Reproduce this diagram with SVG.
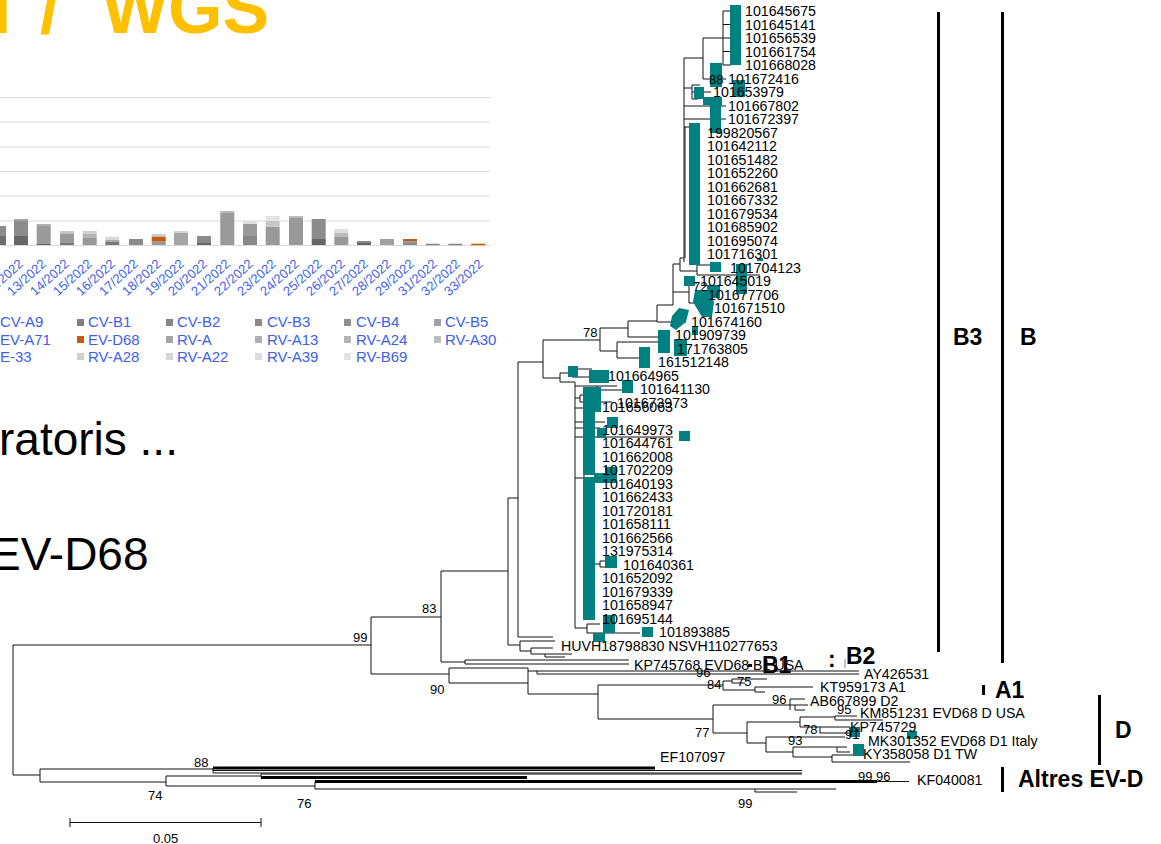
<svg xmlns="http://www.w3.org/2000/svg" width="1161" height="844" viewBox="0 0 1161 844">
<style>
text{font-family:"Liberation Sans",Arial,sans-serif}
.t{font-size:14.2px;fill:#000}
.bs{font-size:13px;fill:#000}
.cl{font-size:23px;font-weight:bold;fill:#000}
.lg{font-size:15px;fill:#4060e8}
.xl{font-size:13px;fill:#4060e8}
.br{stroke:#111;stroke-width:1;fill:none}
.tk{stroke:#000;stroke-width:3;fill:none}
.tl{fill:#008080}
.gl{stroke:#d9d9d9;stroke-width:1.2}
</style>
<rect width="1161" height="844" fill="#fff"/>
<g id="title"><text font-size="70" font-weight="bold" fill="#FFC000"><tspan x="-8" y="33">l </tspan><tspan x="40" y="33">/ </tspan><tspan x="102" y="33">WGS</tspan></text></g>
<g id="chart">
<g class="gl"><line x1="0" y1="97.5" x2="490" y2="97.5"/><line x1="0" y1="122" x2="490" y2="122"/><line x1="0" y1="147" x2="490" y2="147"/><line x1="0" y1="171.5" x2="490" y2="171.5"/><line x1="0" y1="196" x2="490" y2="196"/><line x1="0" y1="221" x2="490" y2="221"/><line x1="0" y1="245.5" x2="490" y2="245.5"/></g>
<g id="bars">
<rect x="0" y="226" width="6" height="10" fill="#8c8c8c"/><rect x="0" y="236" width="6" height="9" fill="#6e6e6e"/>
<rect x="14" y="219" width="14" height="2" fill="#a5a5a5"/><rect x="14" y="221" width="14" height="15" fill="#8c8c8c"/><rect x="14" y="236" width="14" height="9" fill="#666"/>
<rect x="36.7" y="224" width="14" height="2" fill="#b0b0b0"/><rect x="36.7" y="226" width="14" height="18" fill="#9a9a9a"/><rect x="36.7" y="244" width="14" height="1" fill="#666"/>
<rect x="60" y="231" width="14" height="2.5" fill="#c8c8c8"/><rect x="60" y="233.5" width="14" height="9.5" fill="#9a9a9a"/><rect x="60" y="243" width="14" height="2" fill="#777"/>
<rect x="82.7" y="231" width="14" height="3" fill="#d0d0d0"/><rect x="82.7" y="234" width="14" height="4" fill="#b5b5b5"/><rect x="82.7" y="238" width="14" height="7" fill="#999"/>
<rect x="105.3" y="236.7" width="14" height="3.3" fill="#dadada"/><rect x="105.3" y="240" width="14" height="2" fill="#aaa"/><rect x="105.3" y="242" width="14" height="3" fill="#777"/>
<rect x="129" y="239" width="14" height="6" fill="#8a8a8a"/>
<rect x="151.7" y="234" width="14" height="2.7" fill="#ccc"/><rect x="151.7" y="236.7" width="14" height="5" fill="#c55a11"/><rect x="151.7" y="241.7" width="14" height="3.3" fill="#999"/>
<rect x="174" y="231" width="14" height="2" fill="#d5d5d5"/><rect x="174" y="233" width="14" height="12" fill="#a5a5a5"/>
<rect x="197" y="236" width="14" height="7" fill="#8a8a8a"/><rect x="197" y="243" width="14" height="2" fill="#666"/>
<rect x="220.3" y="211" width="14" height="2" fill="#bbb"/><rect x="220.3" y="213" width="14" height="32" fill="#9a9a9a"/>
<rect x="243" y="221" width="14" height="3" fill="#e0e0e0"/><rect x="243" y="224" width="14" height="12" fill="#9a9a9a"/><rect x="243" y="236" width="14" height="9" fill="#888"/>
<rect x="265.7" y="216" width="14" height="5" fill="#e3e3e3"/><rect x="265.7" y="221" width="14" height="6" fill="#c8c8c8"/><rect x="265.7" y="227" width="14" height="18" fill="#999"/>
<rect x="289" y="216" width="14" height="2" fill="#bbb"/><rect x="289" y="218" width="14" height="27" fill="#999"/>
<rect x="311.7" y="219" width="14" height="20" fill="#8c8c8c"/><rect x="311.7" y="239" width="14" height="6" fill="#666"/>
<rect x="334.3" y="229" width="14" height="4" fill="#dedede"/><rect x="334.3" y="233" width="14" height="4" fill="#bbb"/><rect x="334.3" y="237" width="14" height="8" fill="#999"/>
<rect x="357" y="241" width="14" height="2" fill="#888"/><rect x="357" y="243" width="14" height="2" fill="#666"/>
<rect x="380" y="239" width="14" height="6" fill="#a0a0a0"/>
<rect x="403" y="239" width="14" height="2" fill="#c55a11"/><rect x="403" y="241" width="14" height="2" fill="#999"/><rect x="403" y="243" width="14" height="2" fill="#888"/>
<rect x="425.7" y="243.7" width="14" height="1.5" fill="#888"/>
<rect x="448.3" y="243.7" width="14" height="1.5" fill="#888"/>
<rect x="471.3" y="243.7" width="14" height="1.5" fill="#c55a11"/>
</g>
<g id="xlabels" class="xl" text-anchor="end">
<text transform="translate(24,265) rotate(-42)">12/2022</text>
<text transform="translate(47,265) rotate(-42)">13/2022</text>
<text transform="translate(70,265) rotate(-42)">14/2022</text>
<text transform="translate(93,265) rotate(-42)">15/2022</text>
<text transform="translate(116,265) rotate(-42)">16/2022</text>
<text transform="translate(139,265) rotate(-42)">17/2022</text>
<text transform="translate(162,265) rotate(-42)">18/2022</text>
<text transform="translate(185,265) rotate(-42)">19/2022</text>
<text transform="translate(208,265) rotate(-42)">20/2022</text>
<text transform="translate(231,265) rotate(-42)">21/2022</text>
<text transform="translate(254,265) rotate(-42)">22/2022</text>
<text transform="translate(277,265) rotate(-42)">23/2022</text>
<text transform="translate(300,265) rotate(-42)">24/2022</text>
<text transform="translate(323,265) rotate(-42)">25/2022</text>
<text transform="translate(346,265) rotate(-42)">26/2022</text>
<text transform="translate(369,265) rotate(-42)">27/2022</text>
<text transform="translate(392,265) rotate(-42)">28/2022</text>
<text transform="translate(415,265) rotate(-42)">29/2022</text>
<text transform="translate(438,265) rotate(-42)">31/2022</text>
<text transform="translate(461,265) rotate(-42)">32/2022</text>
<text transform="translate(484,265) rotate(-42)">33/2022</text>
</g>
<g id="legend">
<rect x="77" y="319" width="7" height="7" fill="#7f7f7f"/><rect x="166" y="319" width="7" height="7" fill="#858585"/><rect x="255" y="319" width="7" height="7" fill="#8a8a8a"/><rect x="344" y="319" width="7" height="7" fill="#8f8f8f"/><rect x="434" y="319" width="7" height="7" fill="#a0a0a0"/>
<rect x="77" y="336" width="7" height="7" fill="#c55a11"/><rect x="166" y="336" width="7" height="7" fill="#a6a6a6"/><rect x="255" y="336" width="7" height="7" fill="#afafaf"/><rect x="344" y="336" width="7" height="7" fill="#b5b5b5"/><rect x="434" y="336" width="7" height="7" fill="#bdbdbd"/>
<rect x="77" y="353" width="7" height="7" fill="#d0d0d0"/><rect x="166" y="353" width="7" height="7" fill="#d6d6d6"/><rect x="255" y="353" width="7" height="7" fill="#dcdcdc"/><rect x="344" y="353" width="7" height="7" fill="#e2e2e2"/>
<g class="lg">
<text x="0" y="327">CV-A9</text><text x="88" y="327">CV-B1</text><text x="177" y="327">CV-B2</text><text x="267" y="327">CV-B3</text><text x="356" y="327">CV-B4</text><text x="445" y="327">CV-B5</text>
<text x="0" y="345">EV-A71</text><text x="88" y="345">EV-D68</text><text x="177" y="345">RV-A</text><text x="267" y="345">RV-A13</text><text x="356" y="345">RV-A24</text><text x="445" y="345">RV-A30</text>
<text x="0" y="362">E-33</text><text x="88" y="362">RV-A28</text><text x="177" y="362">RV-A22</text><text x="267" y="362">RV-A39</text><text x="356" y="362">RV-B69</text>
</g>
</g>
</g>
<g id="bodytext"><text x="-1" y="455" font-size="46">ratoris ...</text><text x="-10" y="570" font-size="46">EV-D68</text></g>
<g id="connectors">
<path class="br" d="M723,11V65M723,11H731M723,24.5H731M723,38H731M723,51.5H731M723,65H731M703,38H723M703,38V79M703,79H726M684,58H703M684,58V262M684,88H692M692,85V99M692,85H700M692,92H711M692,99H698M684,106H726M684,119H726M684,127H700M680,258V271M680,258H684M680,271H697M697,265V275M697,265H712M697,275H760M673,264V305M673,264H680M673,292H689M689,283V303M689,283H697M689,303H700M700,297V310M700,297H708M700,310H712M657,305V322M657,305H673M657,322H686M628,321V337M628,321H657M628,337H668M600,328V351M600,328H628M600,351H617M617,342V358M617,342H662M617,358H645M543,340V378M543,340H600M543,378H560M518,362V637M518,362H543M518,637H553M508,498V645M508,498H518M441,571V662M441,571H508M560,373V382M560,373H572M572,369V377M572,369H592M572,377H604M560,382H575M575,382V628M575,386H597M597,386V390M597,386H617M597,390H622M575,398H580M580,395V402M580,395H590M580,402H612M575,408H598M575,422H605M575,428H600M575,437H673M575,478H584M584,564H600M600,561V567M600,561H606M600,567H610M575,628H587M587,624V633M587,624H600M587,633H640M508,645H520M520,641V651M520,641H555M520,651H531M531,648V654M531,648H553M531,654H545M545,654V657M545,654H572M545,657H565M441,662H465M465,660V664M13,645V775M13,645H371M371,617V674M371,617H441M371,674H449M449,668V683M449,668H528M449,683H528M528,668V694M528,671H859M537,674H859M537,671V674M528,694H598M598,685V719M598,685H723M723,681V690M723,681H732M732,679V683M732,679H767M732,683H745M723,690H755M755,687V692M755,687H813M755,692H765M598,719H713M713,705V733M713,705H790M790,699V710M790,699H805M790,705H795M795,705V710M795,705H808M795,710H805M713,733H747M747,722V743M747,722H800M800,717V727M800,717H835M835,716V720M835,716H857M800,727H820M820,727V733M820,727H850M820,733H852M747,743H766M766,737V752M766,737H845M766,752H793M793,747V757M793,747H837M837,747V752M837,747H847M837,752H850M793,757H832M832,755V762M832,755H862M832,762H910M13,775H40M40,769V782M40,769H213M213,768V773M213,773H802M40,782H166M166,776V786M166,776H261M261,774V777.5M261,774H802M166,786H315M315,781.5V789M877,781.5H909M315,789H836M755,789V792M755,792H797"/>
<path class="br" stroke-width="2" d="M685,127V258M584,456V620M835,720H883"/>
<path class="br" stroke-width="1.4" d="M465,660H629M465,664H629M213,770.5H802"/>
<path class="tk" d="M213,768H655M315,781.5H877"/>
<path class="tk" stroke-width="2.5" d="M261,777.5H527"/>
<path class="br" d="M70,822.5H261M70,818V827M261,818V827"/>
<line x1="845" y1="659" x2="845" y2="668" stroke="#888" stroke-width="1"/>
<rect x="748" y="664" width="4" height="3" fill="#000"/>
</g>
<g id="marks" class="tl">
<rect x="730" y="5" width="11" height="60"/><rect x="733" y="80" width="12" height="17"/><rect x="710" y="63" width="12" height="24"/><rect x="703" y="97" width="19" height="8"/><rect x="710" y="97" width="11" height="36"/><rect x="694" y="87" width="10" height="12"/><rect x="689" y="123" width="11" height="142"/><rect x="710" y="262" width="11" height="10"/><rect x="757" y="258" width="6" height="3"/><rect x="736" y="264" width="11" height="30"/><rect x="684" y="276" width="11" height="10"/><rect x="707" y="285" width="13" height="13"/>
<polygon points="695,290 707,290 714,302 712,317 702,317 693,302"/>
<polygon points="679,308 689,310 686,322 676,330 670,326 672,316"/>
<rect x="658" y="330" width="12" height="23"/><rect x="674" y="339" width="13" height="17"/><rect x="692" y="327" width="6" height="8"/><rect x="639" y="347" width="11" height="21"/><rect x="568" y="366" width="10" height="11"/><rect x="589" y="370" width="20" height="13"/><rect x="622" y="380" width="11" height="13"/><rect x="583" y="387" width="18" height="25"/><rect x="583" y="410" width="12" height="65"/><rect x="607" y="417" width="11" height="11"/><rect x="597" y="428" width="9" height="10"/><rect x="679" y="431" width="11" height="10"/><rect x="583" y="477" width="12" height="143"/><rect x="594" y="473" width="23" height="10"/><rect x="605" y="467" width="12" height="15"/><rect x="605" y="556" width="12" height="12"/><rect x="603" y="615" width="12" height="18"/><rect x="642" y="627" width="11" height="10"/><rect x="593" y="633" width="12" height="9"/><rect x="849" y="727" width="11" height="10"/><rect x="907" y="731" width="10" height="8"/><rect x="853" y="744" width="11" height="12"/>
</g>
<g id="leaves" class="t">
<g id="n101645675"><text x="745" y="16">101645675</text></g>
<g id="n101645141"><text x="745" y="29.5">101645141</text></g>
<g id="n101656539"><text x="745" y="43">101656539</text></g>
<g id="n101661754"><text x="745" y="56.5">101661754</text></g>
<g id="n101668028"><text x="745" y="70">101668028</text></g>
<g id="n101672416"><text x="728" y="83.5">101672416</text></g>
<g id="n101653979"><text x="713" y="97">101653979</text></g>
<g id="n101667802"><text x="728" y="110.5">101667802</text></g>
<g id="n101672397"><text x="728" y="124">101672397</text></g>
<g id="n199820567"><text x="707" y="137.5">199820567</text></g>
<g id="n101642112"><text x="707" y="151">101642112</text></g>
<g id="n101651482"><text x="707" y="164.5">101651482</text></g>
<g id="n101652260"><text x="707" y="178">101652260</text></g>
<g id="n101662681"><text x="707" y="191.5">101662681</text></g>
<g id="n101667332"><text x="707" y="205">101667332</text></g>
<g id="n101679534"><text x="707" y="218.5">101679534</text></g>
<g id="n101685902"><text x="707" y="232">101685902</text></g>
<g id="n101695074"><text x="707" y="245.5">101695074</text></g>
<g id="n101716301"><text x="707" y="259">101716301</text></g>
<g id="n101704123"><text x="730" y="272.5">101704123</text></g>
<g id="n101645019"><text x="700" y="286">101645019</text></g>
<g id="n101677706"><text x="708" y="299.5">101677706</text></g>
<g id="n101671510"><text x="714" y="313">101671510</text></g>
<g id="n101674160"><text x="691" y="326.5">101674160</text></g>
<g id="n101909739"><text x="675" y="340">101909739</text></g>
<g id="n171763805"><text x="677" y="353.5">171763805</text></g>
<g id="n161512148"><text x="658" y="367">161512148</text></g>
<g id="n101664965"><text x="608" y="380.5">101664965</text></g>
<g id="n101641130"><text x="640" y="394">101641130</text></g>
<g id="n101673973"><text x="617" y="407.5">101673973</text></g>
<g id="n101656063"><text x="602" y="412">101656063</text></g>
<g id="n101649973"><text x="602" y="434.5">101649973</text></g>
<g id="n101644761"><text x="602" y="448">101644761</text></g>
<g id="n101662008"><text x="602" y="461.5">101662008</text></g>
<g id="n101702209"><text x="602" y="475">101702209</text></g>
<g id="n101640193"><text x="602" y="488.5">101640193</text></g>
<g id="n101662433"><text x="602" y="502">101662433</text></g>
<g id="n101720181"><text x="602" y="515.5">101720181</text></g>
<g id="n101658111"><text x="602" y="529">101658111</text></g>
<g id="n101662566"><text x="602" y="542.5">101662566</text></g>
<g id="n131975314"><text x="602" y="556">131975314</text></g>
<g id="n101640361"><text x="623" y="569.5">101640361</text></g>
<g id="n101652092"><text x="602" y="583">101652092</text></g>
<g id="n101679339"><text x="602" y="596.5">101679339</text></g>
<g id="n101658947"><text x="602" y="610">101658947</text></g>
<g id="n101695144"><text x="602" y="623.5">101695144</text></g>
<g id="n101893885"><text x="659" y="637">101893885</text></g>
<g id="nHUVH"><text x="561" y="650.5">HUVH18798830 NSVH110277653</text></g>
<g id="nKP745768"><text x="634" y="670">KP745768 EVD68 B1 USA</text></g>
<g id="nAY426531"><text x="864" y="679">AY426531</text></g>
<g id="nKT959173"><text x="820" y="692">KT959173 A1</text></g>
<g id="nAB667899"><text x="810" y="705.5">AB667899 D2</text></g>
<g id="nKM851231"><text x="860" y="718">KM851231 EVD68 D USA</text></g>
<g id="nKP745729"><text x="850" y="732">KP745729</text></g>
<g id="nMK301352"><text x="868" y="746">MK301352 EVD68 D1 Italy</text></g>
<g id="nKY358058"><text x="863" y="759">KY358058 D1 TW</text></g>
<g id="nEF107097"><text x="660" y="762">EF107097</text></g>
<g id="nKF040081"><text x="917" y="785">KF040081</text></g>
</g>
<g id="bootstrap" class="bs">
<text x="709" y="84">88</text><text x="693" y="291">72</text><text x="583" y="337">78</text><text x="422" y="613">83</text><text x="353" y="642">99</text><text x="696" y="677">96</text><text x="430" y="694">90</text><text x="707" y="689">84</text><text x="737" y="686">75</text><text x="772" y="704">96</text><text x="837" y="714">95</text><text x="695" y="737">77</text><text x="803" y="734">78</text><text x="845" y="739">91</text><text x="788" y="745">93</text><text x="194" y="767">88</text><text x="148" y="800">74</text><text x="297" y="808">76</text><text x="738" y="808">99</text><text x="858" y="781">99 96</text><text x="153" y="843">0.05</text>
</g>
<g id="clades">
<rect x="937" y="12" width="3" height="640" fill="#000"/><rect x="1001" y="12" width="3" height="651" fill="#000"/><rect x="982" y="685" width="3" height="10" fill="#000"/><rect x="1098" y="695" width="3" height="70" fill="#000"/><rect x="1001" y="767" width="3" height="25" fill="#000"/>
<text class="cl" x="953" y="345">B3</text><text class="cl" x="1020" y="345">B</text><text class="cl" x="846" y="664">B2</text><text class="cl" x="828" y="667" font-size="16">:</text><text class="cl" x="762" y="673">B1</text><text class="cl" x="995" y="698">A1</text><text class="cl" x="1115" y="738">D</text><text class="cl" x="1018" y="787">Altres EV-D</text>
</g>
</svg>
